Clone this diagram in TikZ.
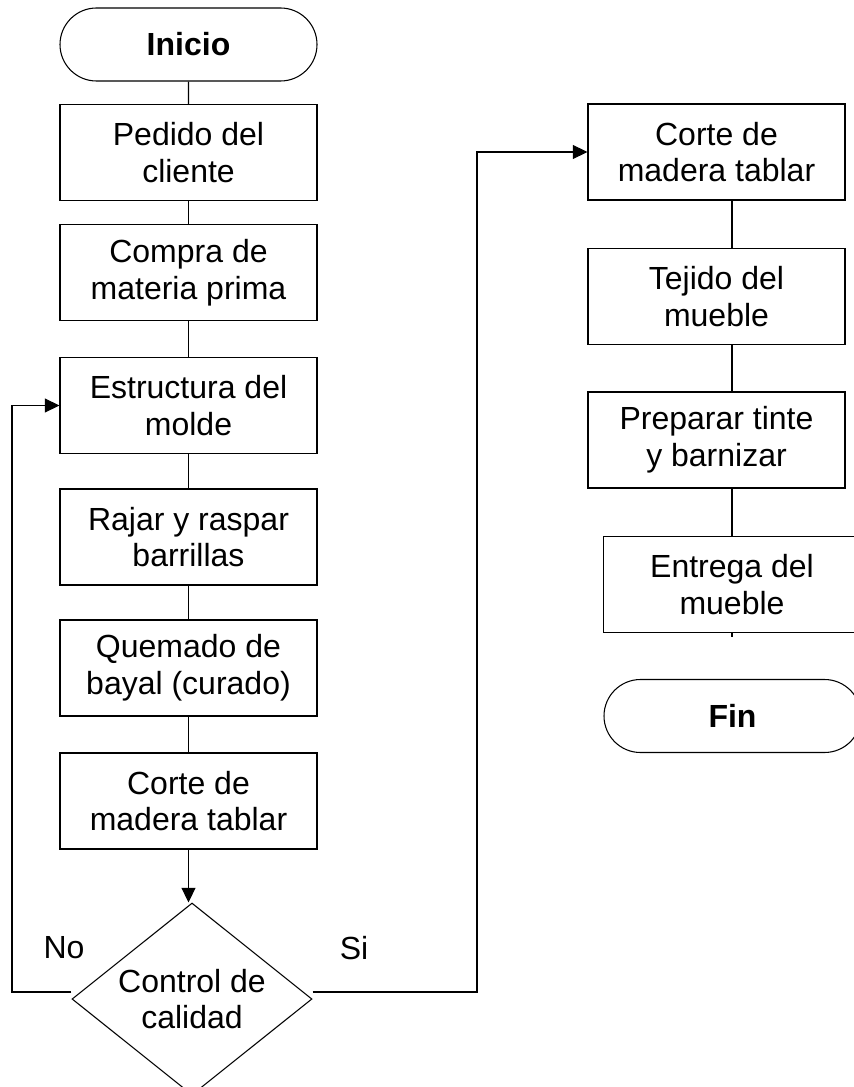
\documentclass[tikz,border=0pt]{standalone}
\usepackage{fontspec}
\setmainfont{Liberation Sans}
\usepackage{tikz}
\usetikzlibrary{shapes.geometric}
\usetikzlibrary{shapes.misc}
\usetikzlibrary{arrows.meta}

\begin{document}
\begin{tikzpicture}[x=0.75pt,y=-0.75pt,
  font=\fontsize{24}{27.6}\selectfont,
  >={Triangle[length=11pt,width=10.5pt]},
  caja/.style={draw,thick,align=center,minimum width=192.75pt,minimum height=72pt,inner sep=0pt},
  termino/.style={draw,thick,rounded rectangle,minimum width=192.75pt,minimum height=54.75pt,inner sep=0pt,font=\fontsize{24}{27.6}\selectfont\bfseries},
  decision/.style={draw,thick,diamond,aspect=1.25,align=center,minimum width=180pt,minimum height=144pt,inner sep=0pt}]
\useasboundingbox (0,0) rectangle (853,1087);
\node at (188.5,44.5)[termino] (In) {Inicio};
\node at (188.5,152.5)[caja] (Pe) {Pedido del\\cliente};
\node at (188.5,272.5)[caja] (Co) {Compra de\\materia prima};
\node at (188.5,405.5)[caja] (Es) {Estructura del\\molde};
\node at (188.5,537)[caja] (Ra) {Rajar y raspar\\barrillas};
\node at (188.5,668)[caja] (Qu) {Quemado de\\bayal (curado)};
\node at (188.5,801)[caja] (Ct) {Corte de\\madera tablar};
\node at (192,999)[decision] (Dc) {Control de\\calidad};
\node at (64,948)[inner sep=0pt] (No) {No};
\node at (354,948)[inner sep=0pt] (Si) {Si};
\node at (716.5,152)[caja] (Cm) {Corte de\\madera tablar};
\node at (716.5,296.5)[caja] (Te) {Tejido del\\mueble};
\node at (716.5,440)[caja] (Pr) {Preparar tinte\\y barnizar};
\node at (732,584.5)[caja] (En) {Entrega del\\mueble};
\node at (732.5,716)[termino] (Fi) {Fin};
\coordinate (Lz) at (12,0);
\coordinate (Rz) at (477,0);
\draw[thick] (In) -- (Pe);
\draw[thick] (Pe) -- (Co);
\draw[thick] (Co) -- (Es);
\draw[thick] (Es) -- (Ra);
\draw[thick] (Ra) -- (Qu);
\draw[thick] (Qu) -- (Ct);
\draw[->,thick] (Ct.south) -- (Ct.south |- Dc.north);
\draw[->,thick] ([yshift=5.25pt]Dc.west) -| (Lz |- Es.west) -- (Es.west);
\draw[->,thick] ([yshift=5.25pt]Dc.east) -| (Rz |- Cm.west) -- (Cm.west);
\draw[thick] (En.north |- Cm.south) -- (En.north |- Te.north);
\draw[thick] (En.north |- Te.south) -- (En.north |- Pr.north);
\draw[thick] (En.north |- Pr.south) -- (En.north);
\draw[thick] (En.south) -- ++(0,4);
\end{tikzpicture}
\end{document}
